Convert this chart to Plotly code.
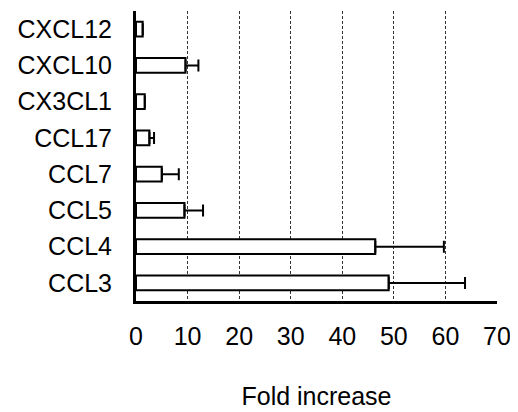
import plotly.graph_objects as go

categories = ["CCL3", "CCL4", "CCL5", "CCL7", "CCL17", "CX3CL1", "CXCL10", "CXCL12"]
fold_increase = [49.0, 46.4, 9.4, 5.0, 2.6, 1.7, 9.6, 1.3]
error_plus = [14.8, 13.3, 3.6, 3.3, 0.9, 0.0, 2.5, 0.0]
x_ticks = [0, 10, 20, 30, 40, 50, 60, 70]

fig = go.Figure(go.Bar(
    y=categories, x=fold_increase, orientation="h",
    width=0.41,
    marker=dict(color="white", line=dict(color="black", width=2)),
    error_x=dict(type="data", array=error_plus, arrayminus=[0]*len(error_plus),
                 symmetric=False, color="black", thickness=2, width=6),
))

font = dict(family="Liberation Sans, Arial, sans-serif", size=25, color="black")
fig.update_layout(
    width=510, height=404,
    margin=dict(l=128, r=21, t=3, b=111),
    plot_bgcolor="white", paper_bgcolor="white",
    showlegend=False, font=font,
)
fig.update_xaxes(
    range=[0, 70], tickvals=x_ticks, ticktext=[str(v) for v in x_ticks],
    showline=True, linecolor="black", linewidth=3,
    showgrid=True, gridcolor="#333", griddash="3px,2px", gridwidth=1,
    zeroline=False, ticks="", ticklabelstandoff=11, automargin=False,
    title=dict(text="Fold increase", standoff=39, font=font),
    tickfont=font,
)
fig.update_yaxes(
    categoryorder="array", categoryarray=categories, range=[-0.5, 7.5],
    showline=True, linecolor="black", linewidth=3, automargin=False,
    showgrid=False, ticks="", ticklabelstandoff=16, tickfont=font,
)
fig.write_html("out.html")
